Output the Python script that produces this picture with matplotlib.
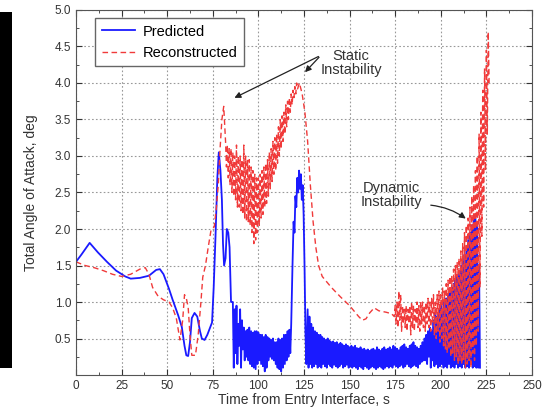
import numpy as np
import matplotlib
matplotlib.use('Agg')
import matplotlib.pyplot as plt
from matplotlib.patches import Rectangle

plt.rcParams['font.family'] = ['Liberation Sans', 'DejaVu Sans']

# Predicted, smooth part (time s, angle deg)
pred_t = [0, 3, 7.5, 12, 17, 22, 27, 30, 35, 40, 44, 46, 48, 51, 53, 56, 58, 59.5, 60.5, 61.5,
          62.5, 63.5, 65, 66.5, 68, 69, 70.5, 72, 73.5, 74.6, 75.5, 76.5, 77.5, 78.3, 79.2, 80,
          80.6, 81.2, 82, 82.7, 83.5, 84.2, 85]
pred_v = [1.55, 1.65, 1.81, 1.68, 1.55, 1.43, 1.35, 1.32, 1.33, 1.36, 1.44, 1.45, 1.38, 1.18, 1.03,
          0.82, 0.66, 0.40, 0.27, 0.26, 0.45, 0.78, 0.85, 0.80, 0.60, 0.50, 0.48, 0.55, 0.65, 0.72,
          1.2, 1.9, 2.7, 3.05, 2.8, 2.4, 1.8, 1.5, 1.6, 2.0, 1.95, 1.75, 1.0]

# Predicted, oscillating band 86..118 s (peaks at t, troughs at t+0.5)
pred_osc1_start = 86
pred_osc1_hi = [1.0, 0.9, 0.95, 0.7, 0.9, 0.75, 0.65, 0.6, 0.62, 0.65, 0.6, 0.58, 0.6, 0.6, 0.58,
                0.55, 0.55, 0.52, 0.55, 0.52, 0.5, 0.48, 0.5, 0.45, 0.45, 0.5, 0.48, 0.5, 0.55, 0.55,
                0.6, 0.62]
pred_osc1_lo = [0.1, 0.3, 0.15, 0.4, 0.1, 0.35, 0.2, 0.25, 0.2, 0.15, 0.12, 0.1, 0.08, 0.15, 0.2,
                0.15, 0.12, 0.05, 0.1, 0.2, 0.25, 0.22, 0.2, 0.15, 0.1, 0.08, 0.05, 0.1, 0.15, 0.2,
                0.25, 0.3]

# Predicted, second peak
pred_peak_t = [118, 118.7, 119.3, 119.8, 120.3, 120.8, 121.3, 121.8, 122.3, 122.8, 123.3, 123.8,
               124.3, 124.8, 125.3, 125.8, 126.3]
pred_peak_v = [0.7, 1.5, 2.1, 1.95, 2.45, 2.3, 2.7, 2.5, 2.8, 2.55, 2.75, 2.4, 2.6, 2.2, 1.5, 0.6, 0.15]

# Predicted, oscillating band 127..221 s
pred_osc2_start = 127
pred_osc2_hi = [0.9, 0.8, 0.7, 0.65, 0.6, 0.58, 0.55, 0.55, 0.52,
                0.5, 0.48, 0.5, 0.47, 0.45, 0.46, 0.44, 0.45, 0.42, 0.44, 0.42, 0.4, 0.42, 0.4, 0.38,
                0.4, 0.38, 0.4, 0.37, 0.36, 0.38, 0.35, 0.36, 0.34, 0.35, 0.33, 0.35, 0.36, 0.34, 0.38,
                0.35, 0.33, 0.36, 0.38, 0.35,
                0.36, 0.38, 0.35, 0.4, 0.38, 0.36, 0.34, 0.38, 0.4, 0.42, 0.38, 0.36, 0.4, 0.42, 0.45,
                0.4, 0.38, 0.36, 0.4, 0.45,
                0.5, 0.55, 0.6, 0.65, 0.6, 0.75, 0.85, 0.8, 0.9, 0.95, 0.9, 1.0, 1.05, 1.1, 1.15, 1.2,
                1.25, 1.3, 1.35, 1.4, 1.5, 1.55, 1.65, 1.75, 1.85, 1.95, 2.05, 2.15, 2.2, 2.05, 1.5]
pred_osc2_lo = [0.1, 0.15, 0.1, 0.12, 0.15, 0.1, 0.12, 0.1, 0.15,
                0.12, 0.1, 0.15, 0.12, 0.1, 0.14, 0.12, 0.1, 0.12, 0.15, 0.1, 0.12, 0.14, 0.1, 0.12,
                0.1, 0.12, 0.1, 0.08, 0.12, 0.1, 0.08, 0.12, 0.1, 0.08, 0.1, 0.12, 0.1, 0.08, 0.1,
                0.12, 0.1, 0.08, 0.1, 0.12,
                0.1, 0.12, 0.1, 0.14, 0.12, 0.1, 0.12, 0.14, 0.1, 0.12, 0.15, 0.12, 0.1, 0.12, 0.14,
                0.12, 0.1, 0.15, 0.18, 0.2,
                0.2, 0.15, 0.25, 0.1, 0.2, 0.12, 0.15, 0.1, 0.12, 0.15, 0.1, 0.12, 0.1, 0.15, 0.1,
                0.12, 0.1, 0.15, 0.1, 0.12, 0.1, 0.15, 0.1, 0.12, 0.1, 0.15, 0.1, 0.12, 0.1, 0.1, 0.1]

# Reconstructed, smooth part
rec_t = [0, 5, 10, 15, 20, 25, 30, 35, 38, 40, 42, 45, 48, 51, 53, 55, 57, 58.5, 59.5, 60.5, 61.5,
         62.5, 63.5, 65.5, 67, 68.5, 69.5, 71, 72.5, 74, 75.8, 77, 78, 79, 80, 81]
rec_v = [1.55, 1.5, 1.47, 1.43, 1.38, 1.35, 1.38, 1.45, 1.47, 1.38, 1.2, 1.08, 1.03, 1.0, 0.92,
         0.78, 0.48, 0.75, 1.1, 1.05, 0.93, 0.55, 0.27, 0.27, 0.55, 1.0, 1.34, 1.5, 1.75, 1.98,
         2.03, 2.3, 2.6, 3.1, 3.5, 3.68]

# Reconstructed, oscillation 82..121 s
rec_osc1_start = 82
rec_osc1_hi = [3.2, 3.15, 3.1, 3.1, 3.05, 3.0, 3.15, 3.0, 3.0, 2.95, 3.15, 3.0, 2.95, 2.95, 2.85,
               2.8, 2.75, 2.7, 2.7, 2.75, 2.8, 2.85, 2.9, 2.95, 3.05, 3.1, 3.2, 3.25, 3.3, 3.4,
               3.5, 3.55, 3.6, 3.7, 3.75, 3.8, 3.85, 3.9, 3.95, 4.0]
rec_osc1_lo = [2.85, 2.7, 2.6, 2.5, 2.45, 2.4, 2.3, 2.3, 2.25, 2.2, 2.15, 2.1, 2.1, 2.05, 1.95,
               1.8, 1.85, 1.95, 2.05, 2.15, 2.2, 2.3, 2.35, 2.45, 2.55, 2.65, 2.75, 2.8, 2.9, 3.0,
               3.1, 3.2, 3.3, 3.4, 3.5, 3.6, 3.7, 3.8, 3.85, 3.92]

# Reconstructed, decay after the static peak
rec_mid_t = [122.5, 124, 125.5, 127, 128.5, 130, 131.5, 133, 135, 140, 145, 150, 155, 157, 159,
             161, 163.5, 166, 170, 173, 174.5]
rec_mid_v = [4.0, 3.85, 3.6, 3.2, 2.6, 2.1, 1.75, 1.5, 1.35, 1.2, 1.07, 0.95, 0.8, 0.75, 0.77,
             0.85, 0.92, 0.88, 0.86, 0.84, 0.8]

# Reconstructed, oscillation 175..226 s
rec_osc2_start = 175
rec_osc2_hi = [0.95, 1.0, 1.15, 1.1, 0.95, 0.9, 0.95, 0.9, 0.95, 1.0, 0.95, 0.9, 1.0, 0.95, 1.0,
               1.0, 0.95, 1.0, 1.05, 1.0, 1.05, 1.1, 1.0, 1.1, 1.15, 1.1, 1.2, 1.15, 1.25, 1.3,
               1.35, 1.35, 1.45, 1.5, 1.55, 1.6, 1.7, 1.8, 1.95, 2.05, 2.15, 2.3, 2.45, 2.6, 2.8,
               3.0, 3.3, 3.6, 3.9, 4.2, 4.45, 4.7]
rec_osc2_lo = [0.7, 0.65, 0.75, 0.6, 0.7, 0.65, 0.6, 0.7, 0.55, 0.65, 0.6, 0.7, 0.65, 0.6, 0.7,
               0.65, 0.6, 0.7, 0.65, 0.6, 0.7, 0.55, 0.5, 0.6, 0.45, 0.5, 0.4, 0.35, 0.3, 0.35,
               0.25, 0.3, 0.2, 0.25, 0.15, 0.2, 0.15, 0.2, 0.1, 0.15, 0.2, 0.1, 0.3, 0.2, 0.4,
               0.6, 1.2, 1.9, 2.3, 2.8, 3.3, 4.0]

x_ticks = [0, 25, 50, 75, 100, 125, 150, 175, 200, 225, 250]
y_ticks = [0.5, 1.0, 1.5, 2.0, 2.5, 3.0, 3.5, 4.0, 4.5, 5.0]


def zigzag(start, hi, lo):
    # peaks at start, start+1, ...; troughs half a second later
    t_hi = start + np.arange(len(hi))
    t = np.column_stack([t_hi, t_hi + 0.5]).ravel()
    v = np.column_stack([hi, lo]).ravel()
    return t, v


t1, v1 = zigzag(pred_osc1_start, pred_osc1_hi, pred_osc1_lo)
t2, v2 = zigzag(pred_osc2_start, pred_osc2_hi, pred_osc2_lo)
pred_all_t = np.concatenate([pred_t, t1, pred_peak_t, t2])
pred_all_v = np.concatenate([pred_v, v1, pred_peak_v, v2])

r1, w1 = zigzag(rec_osc1_start, rec_osc1_hi, rec_osc1_lo)
r2, w2 = zigzag(rec_osc2_start, rec_osc2_hi, rec_osc2_lo)
rec_all_t = np.concatenate([rec_t, r1, rec_mid_t, r2])
rec_all_v = np.concatenate([rec_v, w1, rec_mid_v, w2])

fig = plt.figure(figsize=(5.57, 4.13), dpi=100)
ax = fig.add_axes([0.1364, 0.092, 0.8187, 0.8838])

# black strip on the left edge of the scan
fig.patches.append(Rectangle((0, 0.109), 0.0215, 0.862, transform=fig.transFigure,
                             facecolor='black', edgecolor='none'))

ax.plot(pred_all_t, pred_all_v, color='#1a1aff', lw=1.3, label='Predicted')
ax.plot(rec_all_t, rec_all_v, color='#f03a3a', lw=1.0, ls=(0, (4, 2.5)), label='Reconstructed')

ax.set_xlim(0, 250)
ax.set_ylim(0, 5)
ax.set_xticks(x_ticks)
ax.set_yticks(y_ticks)
ax.set_yticklabels(['%.1f' % y for y in y_ticks])
ax.set_xticks(np.arange(0, 251, 12.5), minor=True)
ax.set_yticks(np.arange(0, 5.01, 0.25), minor=True)
ax.tick_params(which='both', direction='in', top=True, right=True, labelsize=8.5, colors='#333333')
ax.tick_params(which='major', length=4)
ax.tick_params(which='minor', length=2)
ax.grid(True, which='major', ls=(0, (1.5, 2)), color='#999999', lw=0.8)
for s in ax.spines.values():
    s.set_color('#555555')

ax.set_xlabel('Time from Entry Interface, s', fontsize=10, color='#333333', labelpad=1)
ax.set_ylabel('Total Angle of Attack, deg', fontsize=10, color='#333333', labelpad=12)

ax.legend(loc='upper left', bbox_to_anchor=(0.042, 0.978), borderaxespad=0, fontsize=10.5,
          fancybox=False, edgecolor='#666666', framealpha=1, handlelength=2.3, borderpad=0.45,
          labelspacing=0.5, handletextpad=0.5)

# annotations
ax.text(150.8, 4.27, 'Static\nInstability', ha='center', va='center', fontsize=10.5,
        color='#333333', linespacing=1.0)
for xy in [(85.5, 3.78), (124.5, 4.12)]:
    ax.annotate('', xy=xy, xytext=(134.3, 4.38),
                arrowprops=dict(arrowstyle='-|>', color='#222222', lw=0.9, mutation_scale=9))

ax.text(172.7, 2.47, 'Dynamic\nInstability', ha='center', va='center', fontsize=10.5,
        color='#333333', linespacing=1.0)
ax.annotate('', xy=(214.9, 2.12), xytext=(193, 2.33),
            arrowprops=dict(arrowstyle='-|>', color='#222222', lw=0.9, mutation_scale=9,
                            connectionstyle='arc3,rad=-0.15'))

fig.savefig('out.png', dpi=100)
